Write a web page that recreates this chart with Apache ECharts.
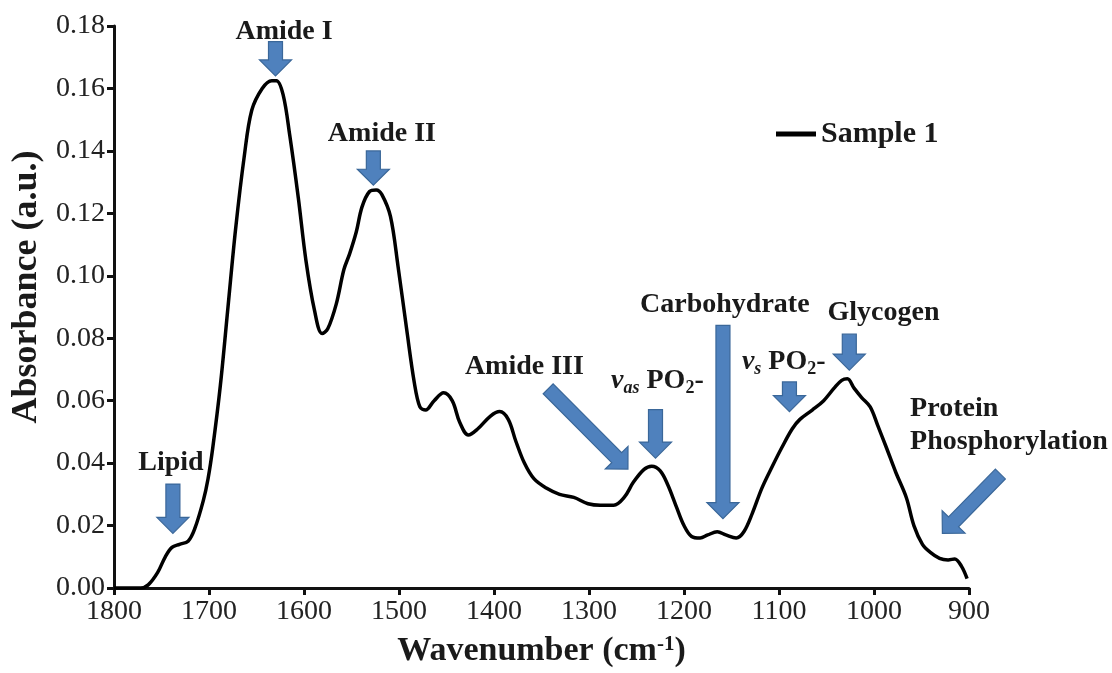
<!DOCTYPE html>
<html>
<head>
<meta charset="utf-8">
<script src="https://cdn.jsdelivr.net/npm/echarts@6/dist/echarts.min.js"></script>
<style>
  html, body { margin: 0; padding: 0; background: #ffffff; }
  #chart { width: 1112px; height: 673px; }
</style>
</head>
<body>
<div id="chart"></div>
<script>
// FTIR absorbance spectrum, wavenumber in cm-1 (axis runs high -> low)
const wavenumber = [
  1800, 1790, 1780, 1772, 1764, 1754, 1746, 1739, 1731, 1722,
  1715, 1706, 1701, 1696, 1688, 1680, 1672, 1663, 1655, 1644,
  1634, 1629, 1622, 1615, 1606, 1598, 1589, 1581, 1575, 1566,
  1558, 1552, 1545, 1539, 1531, 1524, 1518, 1509, 1501, 1492,
  1484, 1478, 1472, 1463, 1453, 1444, 1436, 1427, 1417, 1404,
  1394, 1385, 1377, 1368, 1358, 1345, 1331, 1316, 1301, 1288,
  1274, 1263, 1253, 1242, 1234, 1225, 1217, 1208, 1200, 1192,
  1183, 1175, 1165, 1156, 1145, 1137, 1128, 1118, 1107, 1097,
  1086, 1078, 1065, 1053, 1042, 1034, 1028, 1021, 1013, 1004,
  996, 987, 977, 966, 958, 949, 941, 931, 922, 915,
  908, 902
];
const absorbance = [
  0.000, 0.000, 0.000, 0.000, 0.001, 0.005, 0.010, 0.013, 0.014, 0.015,
  0.019, 0.028, 0.035, 0.045, 0.065, 0.090, 0.115, 0.138, 0.153, 0.160,
  0.1625, 0.1625, 0.158, 0.145, 0.125, 0.105, 0.089, 0.0815, 0.083, 0.091,
  0.102, 0.107, 0.114, 0.122, 0.127, 0.1275, 0.126, 0.119, 0.103, 0.083,
  0.066, 0.058, 0.057, 0.060, 0.0625, 0.060, 0.053, 0.049, 0.051, 0.055,
  0.0565, 0.054, 0.047, 0.040, 0.035, 0.032, 0.030, 0.029, 0.027, 0.0265,
  0.0265, 0.029, 0.034, 0.038, 0.039, 0.0375, 0.033, 0.026, 0.020, 0.0165,
  0.016, 0.017, 0.018, 0.017, 0.016, 0.018, 0.024, 0.032, 0.039, 0.045,
  0.051, 0.054, 0.057, 0.060, 0.064, 0.0665, 0.067, 0.064, 0.061, 0.058,
  0.052, 0.045, 0.037, 0.029, 0.020, 0.014, 0.0115, 0.0095, 0.009, 0.0093,
  0.007, 0.003
];

// Band assignments: label text, label anchor and arrow (tail -> tip), in data units
const bandLabels = [
  'Lipid',
  'Amide I',
  'Amide II',
  'Amide III',
  '{vi|v}{vsub|as} PO{sub|2}-',
  'Carbohydrate',
  '{vi|v}{vsub|s} PO{sub|2}-',
  'Glycogen',
  'Protein\nPhosphorylation'
];
const labelAnchor = [
  [1740, 0.0400],
  [1621, 0.1782],
  [1518, 0.1455],
  [1368, 0.0708],
  [1228, 0.0664],
  [1157, 0.0908],
  [1095, 0.0724],
  [990, 0.0880],
  [962, 0.0520]
];
const labelAlign = ['center', 'center', 'center', 'center', 'center', 'center', 'center', 'center', 'left'];
const arrowTail = [
  [1738, 0.0333],
  [1630, 0.1750],
  [1527, 0.1400],
  [1343, 0.0638],
  [1230, 0.0571],
  [1159, 0.0841],
  [1089, 0.0660],
  [1026, 0.0813],
  [867, 0.0365]
];
const arrowTip = [
  [1738, 0.0175],
  [1630, 0.1640],
  [1527, 0.1290],
  [1259, 0.0381],
  [1230, 0.0416],
  [1159, 0.0222],
  [1089, 0.0565],
  [1026, 0.0698],
  [928, 0.0175]
];

const SERIF = "'Liberation Serif', 'Times New Roman', 'DejaVu Serif', serif";
const INK = '#1a1a1a';

function arrowPolygon(p0, p1, shaftHalf, headHalf, headLen) {
  const dx = p1[0] - p0[0], dy = p1[1] - p0[1];
  const len = Math.hypot(dx, dy);
  const ux = dx / len, uy = dy / len;
  const nx = -uy, ny = ux;
  const bx = p1[0] - ux * headLen, by = p1[1] - uy * headLen;
  return [
    [p0[0] + nx * shaftHalf, p0[1] + ny * shaftHalf],
    [bx + nx * shaftHalf, by + ny * shaftHalf],
    [bx + nx * headHalf, by + ny * headHalf],
    [p1[0], p1[1]],
    [bx - nx * headHalf, by - ny * headHalf],
    [bx - nx * shaftHalf, by - ny * shaftHalf],
    [p0[0] - nx * shaftHalf, p0[1] - ny * shaftHalf]
  ];
}

const spectrum = wavenumber.map((w, i) => [w, absorbance[i]]);
const arrowData = arrowTail.map((t, i) => [t[0], t[1], arrowTip[i][0], arrowTip[i][1]]);
const labelData = labelAnchor.map((p, i) => [p[0], p[1], i]);

const chart = echarts.init(document.getElementById('chart'), null, { renderer: 'canvas' });

chart.setOption({
  backgroundColor: '#ffffff',
  animation: false,
  grid: { left: 114, right: 143, top: 26, bottom: 80, containLabel: false },
  legend: {
    show: true,
    left: 771,
    top: 114,
    data: [{ name: 'Sample 1', icon: 'rect' }],
    itemWidth: 40,
    itemHeight: 5,
    itemGap: 10,
    textStyle: { fontFamily: SERIF, fontSize: 30, fontWeight: 'bold', color: INK, padding: [0, 0, 0, 0] }
  },
  xAxis: {
    type: 'value',
    inverse: true,
    min: 900,
    max: 1800,
    interval: 100,
    name: 'Wavenumber (cm{sup|-1})',
    nameLocation: 'middle',
    nameGap: 46,
    nameTextStyle: {
      fontFamily: SERIF, fontSize: 34, fontWeight: 'bold', color: INK,
      rich: { sup: { fontFamily: SERIF, fontSize: 21, fontWeight: 'bold', color: INK, verticalAlign: 'top', lineHeight: 21 } }
    },
    splitLine: { show: false },
    axisLine: { show: true, lineStyle: { color: '#111', width: 3 } },
    axisTick: { show: true, inside: false, length: 7, lineStyle: { color: '#111', width: 3 } },
    axisLabel: {
      fontFamily: SERIF, fontSize: 28, color: '#222', margin: 10,
      formatter: v => String(v)
    }
  },
  yAxis: {
    type: 'value',
    min: 0,
    max: 0.18,
    interval: 0.02,
    name: 'Absorbance (a.u.)',
    nameLocation: 'middle',
    nameGap: 50,
    nameTextStyle: { fontFamily: SERIF, fontSize: 36, fontWeight: 'bold', color: INK, padding: [0, 0, 0, 40] },
    splitLine: { show: false },
    axisLine: { show: true, lineStyle: { color: '#111', width: 3 } },
    axisTick: { show: true, inside: false, length: 7, lineStyle: { color: '#111', width: 3 } },
    axisLabel: {
      fontFamily: SERIF, fontSize: 28, color: '#222', margin: 9,
      formatter: v => v.toFixed(2)
    }
  },
  series: [
    {
      name: 'Sample 1',
      type: 'line',
      data: spectrum,
      smooth: 0.35,
      showSymbol: false,
      symbol: 'none',
      color: '#000',
      lineStyle: { color: '#000', width: 3.5 },
      z: 3
    },
    {
      name: 'arrows',
      type: 'custom',
      data: arrowData,
      encode: { x: [0, 2], y: [1, 3] },
      silent: true,
      z: 4,
      renderItem: function (params, api) {
        const p0 = api.coord([api.value(0), api.value(1)]);
        const p1 = api.coord([api.value(2), api.value(3)]);
        return {
          type: 'polygon',
          shape: { points: arrowPolygon(p0, p1, 7, 16, 16) },
          style: { fill: '#4F81BD', stroke: '#3A6799', lineWidth: 1.2 }
        };
      }
    },
    {
      name: 'labels',
      type: 'custom',
      data: labelData,
      encode: { x: 0, y: 1 },
      silent: true,
      z: 5,
      renderItem: function (params, api) {
        const p = api.coord([api.value(0), api.value(1)]);
        const i = api.value(2);
        return {
          type: 'text',
          x: p[0],
          y: p[1],
          style: {
            text: bandLabels[i],
            fontFamily: SERIF,
            fontSize: 28,
            fontWeight: 'bold',
            fill: INK,
            align: labelAlign[i],
            verticalAlign: 'middle',
            lineHeight: 33,
            rich: {
              vi: { fontFamily: SERIF, fontSize: 28, fontWeight: 'bold', fontStyle: 'italic', fill: INK, lineHeight: 33 },
              vsub: { fontFamily: SERIF, fontSize: 18, fontWeight: 'bold', fontStyle: 'italic', fill: INK, verticalAlign: 'bottom', lineHeight: 18 },
              sub: { fontFamily: SERIF, fontSize: 18, fontWeight: 'bold', fill: INK, verticalAlign: 'bottom', lineHeight: 18 }
            }
          }
        };
      }
    }
  ]
});
</script>
</body>
</html>
